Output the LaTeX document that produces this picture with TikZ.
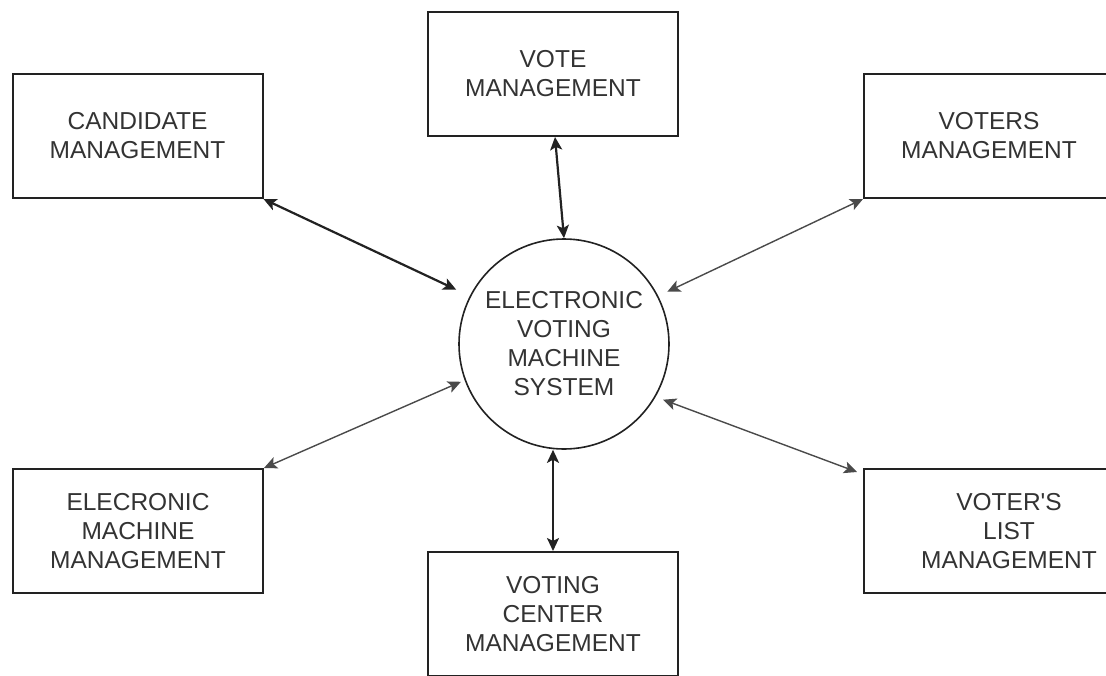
\documentclass[tikz,border=0pt]{standalone}
\usepackage{fontspec}
\setmainfont{Liberation Sans}
\usetikzlibrary{arrows.meta}
\definecolor{ln}{HTML}{222222}
\definecolor{lnthin}{HTML}{4a4a4a}
\definecolor{tx}{HTML}{333333}
\begin{document}
\begin{tikzpicture}[x=1pt,y=-1pt,
  lbl/.style={text=tx, align=center, font=\fontsize{24.5}{29}\selectfont},
  box/.style={lbl, draw=ln, line width=2pt, minimum width=250pt, minimum height=124pt, inner sep=0pt},
  sysnode/.style={lbl, circle, draw=ln, line width=1.6pt, minimum size=210pt, inner sep=0pt},
  thk/.style={draw=ln, line width=2.2pt, {Stealth[length=13pt,width=12pt,inset=3pt]}-{Stealth[length=13pt,width=12pt,inset=3pt]}},
  thn/.style={draw=lnthin, line width=1.4pt, {Stealth[length=13pt,width=12pt,inset=3pt]}-{Stealth[length=13pt,width=12pt,inset=3pt]}}]
\useasboundingbox (0,0) rectangle (1106,675);
\clip (0,0) rectangle (1106,675);
\fill[white] (0,0) rectangle (1106,675);

\node[box] (cand) at (137.5,136) {CANDIDATE\\MANAGEMENT};
\node[box] (vote) at (553,74) {VOTE\\MANAGEMENT};
\node[box] (voters) at (989,136) {VOTERS\\MANAGEMENT};
\node[box] (elec) at (138,531) {ELECRONIC\\MACHINE\\MANAGEMENT};
\node[box] (vc) at (553,614) {VOTING\\CENTER\\MANAGEMENT};
\node[box, minimum width=290pt] (vl) at (1009,531) {VOTER\textquotesingle S\\LIST\\MANAGEMENT};
\node[sysnode] (sys) at (564,344) {ELECTRONIC\\VOTING\\MACHINE\\SYSTEM};

\draw[thk, shorten >=15pt] (cand.south east) -- (sys.153);
\draw[thk] ([xshift=2pt]vote.south) -- (sys.north);
\draw[thn, shorten >=10pt] (voters.south west) -- (sys.27);
\draw[thn, shorten >=4pt] (elec.north east) -- (sys.200);
\draw[thk] (vc.north |- sys.south) -- (vc.north);
\draw[thn, shorten >=8pt] ([xshift=-6pt,yshift=-4pt]vl.north west) -- (sys.-30);
\end{tikzpicture}
\end{document}
